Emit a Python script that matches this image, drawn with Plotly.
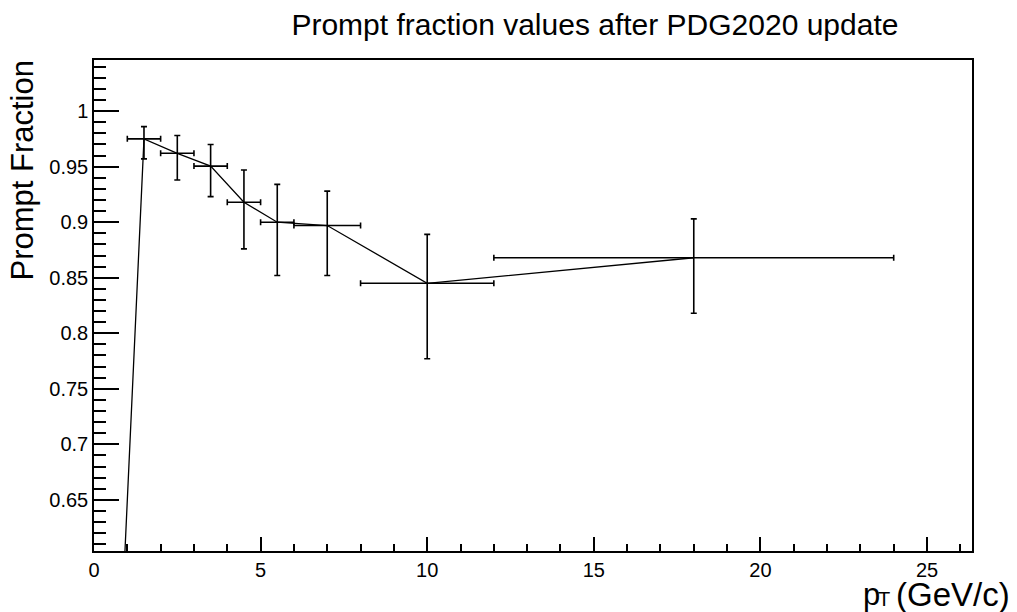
import plotly.graph_objects as go

pt = [0.0, 1.5, 2.5, 3.5, 4.5, 5.5, 7.0, 10.0, 18.0]
frac = [0.0, 0.975, 0.962, 0.9505, 0.918, 0.900, 0.897, 0.845, 0.868]
err_up = [0.0, 0.011, 0.016, 0.0195, 0.029, 0.034, 0.031, 0.044, 0.035]
err_dn = [0.0, 0.018, 0.024, 0.0275, 0.042, 0.048, 0.045, 0.068, 0.050]
bin_half = [0.0, 0.5, 0.5, 0.5, 0.5, 0.5, 1.0, 2.0, 6.0]

FONT = "Liberation Sans, Arial, Helvetica, sans-serif"

fig = go.Figure()
fig.add_trace(go.Scatter(
    x=pt, y=frac, mode="lines",
    line=dict(color="black", width=1.3),
    error_y=dict(type="data", symmetric=False, array=err_up, arrayminus=err_dn,
                 color="black", thickness=1.6, width=3),
    error_x=dict(type="data", array=bin_half, color="black", thickness=1.6, width=3),
    showlegend=False,
))

fig.update_layout(
    width=1017, height=612,
    margin=dict(l=94, r=45, t=60, b=61),
    plot_bgcolor="white", paper_bgcolor="white",
    font=dict(family=FONT, color="black", size=20),
    title=dict(text="Prompt fraction values after PDG2020 update",
               x=0.585, xref="container", xanchor="center",
               y=1 - 24 / 612, yref="container", yanchor="middle",
               font=dict(size=30, family=FONT, color="black")),
)

fig.update_xaxes(
    range=[0, 26.35], showgrid=False, zeroline=False,
    showline=True, linecolor="black", linewidth=1.5, mirror=True,
    ticks="inside", ticklen=14, tickwidth=1.5, tickcolor="black",
    tick0=0, dtick=5,
    minor=dict(ticks="inside", ticklen=7, tickwidth=1.5, tickcolor="black", dtick=1),
    tickfont=dict(size=20, family=FONT),
)
fig.update_yaxes(
    range=[0.604, 1.046], showgrid=False, zeroline=False,
    showline=True, linecolor="black", linewidth=1.5, mirror=True,
    ticks="inside", ticklen=25, tickwidth=1.5, tickcolor="black",
    tick0=0.65, dtick=0.05,
    minor=dict(ticks="inside", ticklen=12, tickwidth=1.5, tickcolor="black", dtick=0.01),
    tickfont=dict(size=20, family=FONT),
)

fig.add_annotation(
    text="Prompt Fraction", textangle=-90,
    xref="paper", yref="paper", x=(3 - 94) / 878, y=1.005,
    xanchor="left", yanchor="top", showarrow=False,
    font=dict(size=31, family=FONT, color="black"),
)

# x-axis title built from pieces: "p", subscript "T", "(GeV/c)"
def px_x(p):
    return (p - 94) / 878

def px_y(p):
    return (551 - p) / 491

fig.add_annotation(
    text="(GeV/c)", xref="paper", yref="paper",
    x=px_x(1012), y=px_y(615), xanchor="right", yanchor="bottom",
    showarrow=False, font=dict(size=33, family=FONT, color="black"),
)
fig.add_annotation(
    text="p", xref="paper", yref="paper",
    x=px_x(861), y=px_y(614), xanchor="left", yanchor="bottom",
    showarrow=False, font=dict(size=31, family=FONT, color="black"),
)
fig.add_annotation(
    text="T", xref="paper", yref="paper",
    x=px_x(876), y=px_y(612), xanchor="left", yanchor="bottom",
    showarrow=False, font=dict(size=20, family=FONT, color="black"),
)

fig.write_html("out.html")
